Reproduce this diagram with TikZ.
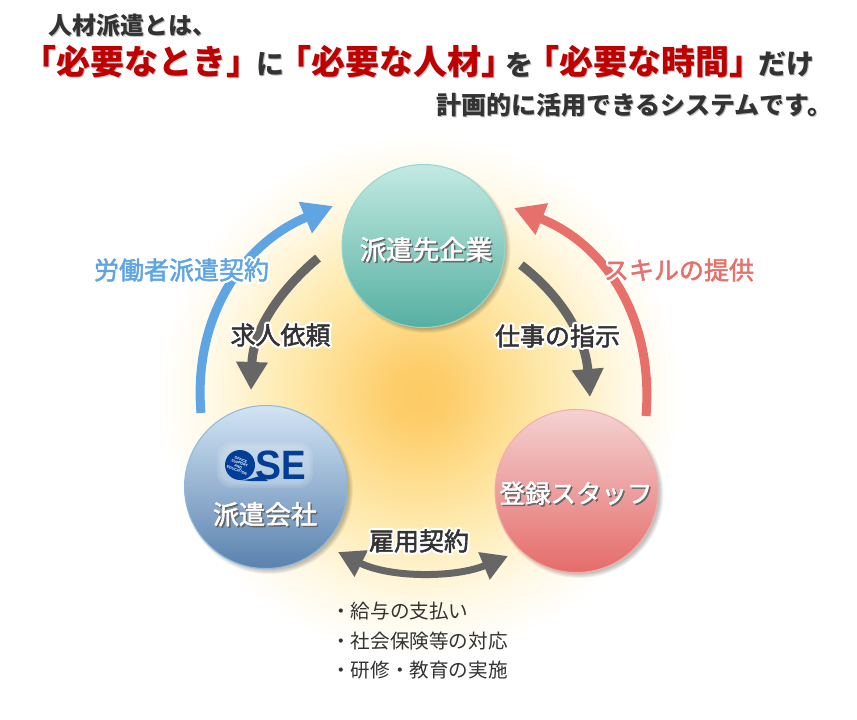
\documentclass[tikz,border=0pt]{standalone}
\usepackage{fontspec}
\usetikzlibrary{arrows.meta,calc}
\newfontfamily\jp{Noto Sans CJK JP}
\newfontfamily\logof{Liberation Sans}
\definecolor{haloA}{HTML}{FDCB66}
\definecolor{haloB}{HTML}{FEDD8E}
\definecolor{haloC}{HTML}{FEEDB8}
\definecolor{haloD}{HTML}{FFF8E4}
\definecolor{inkdark}{HTML}{333333}
\definecolor{arrowgray}{HTML}{666666}
\definecolor{bluearrow}{HTML}{5FA5E3}
\definecolor{redarrow}{HTML}{E8706B}
\definecolor{titlered}{HTML}{BE0000}
\definecolor{tealA}{HTML}{C2EAE2}
\definecolor{tealB}{HTML}{56AFA2}
\definecolor{tealL}{HTML}{93D8CC}
\definecolor{skyA}{HTML}{D2E4F5}
\definecolor{skyB}{HTML}{5A82AE}
\definecolor{skyL}{HTML}{8DB9DF}
\definecolor{roseA}{HTML}{F4D2D2}
\definecolor{roseB}{HTML}{E46C69}
\definecolor{roseL}{HTML}{F6AAAA}
\definecolor{logoblue}{HTML}{003E98}
\pgfdeclareradialshading{halo}{\pgfpoint{0bp}{0bp}}{color(0bp)=(haloA); color(3bp)=(haloA!85!haloB); color(8bp)=(haloB); color(14bp)=(haloC); color(19.5bp)=(haloD); color(25bp)=(white); color(50bp)=(white)}
\newcommand\sz[1]{\fontsize{#1}{#1}\selectfont}
\newcommand\strk[2]{\special{pdf:code 2 Tr #1 w 1 j}#2\special{pdf:code 0 Tr 1 w 0 j}}
\newcommand\outl[2]{\rlap{\jp\color{white}\strk{5}{#2}}{\jp\color{#1}\strk{0.5}{#2}}}
\newcommand\shad[1]{\rlap{\raisebox{-1.5pt}{\kern1.5pt\jp\color{black!60}\strk{0.5}{#1}}}{\jp\color{white}\strk{0.5}{#1}}}
\newcommand\ttl[2]{\rlap{\raisebox{-1pt}{\kern1pt\jp\bfseries\color{black!25}#2}}{\jp\bfseries\color{#1}#2}}
\tikzset{
 x=1pt,y=-1pt,
 bubble/.style={circle,minimum size=163pt,inner sep=0pt,line width=1pt},
 lbl/.style={inner sep=0pt,anchor=center},
 bluearr/.style={draw=bluearrow,line width=9pt,-{Triangle[length=30pt,width=32pt,fill=bluearrow]}},
 redarr/.style={draw=redarrow,line width=9pt,-{Triangle[length=30pt,width=32pt,fill=redarrow]}},
 grayarr/.style={draw=arrowgray,line width=9pt,-{Triangle[length=28pt,width=30pt,fill=arrowgray]}},
 bothrr/.style={draw=arrowgray,line width=7pt,{Triangle[length=26pt,width=28pt,fill=arrowgray]}-{Triangle[length=26pt,width=28pt,fill=arrowgray]}},
 softshadow/.style={fill=black,opacity=0.05},
}
\begin{document}
\begin{tikzpicture}
\useasboundingbox (0,0) rectangle (857,720);
\fill[white] (0,0) rectangle (857,720);
% halo
\shade[shading=halo] (420,395) circle (262);
% soft shadows
\foreach \cx/\cy in {423.5/246,266/487,576.5/491}{
  \foreach \r in {84,83,82,81,80}{
    \fill[softshadow] (\cx+3,\cy+3) circle (\r);
  }
}
% bubbles
\node[bubble,draw=tealL,top color=tealA,bottom color=tealB] (client) at (423.5,246) {};
\node[bubble,draw=skyL,top color=skyA,bottom color=skyB] (agency) at (266,487) {};
\node[bubble,draw=roseL,top color=roseA,bottom color=roseB] (staff) at (576.5,491) {};
% free arrow ends
\coordinate (bs) at (201,413); \coordinate (bt) at (333,206);
\coordinate (rs) at (646,416); \coordinate (rt) at (514,208);
\coordinate (gls) at (318,258); \coordinate (glt) at (251,390);
\coordinate (grs) at (521,265); \coordinate (grt) at (590,397);
\coordinate (dl) at (338,552); \coordinate (dr) at (508,556);
% arrows
\draw[bluearr] (bs) .. controls (193,320) and (240,245) .. (bt);
\draw[redarr] (rs) .. controls (654,320) and (607,245) .. (rt);
\draw[grayarr] (gls) .. controls (280,290) and (253,330) .. (glt);
\draw[grayarr] (grs) .. controls (560,295) and (585,335) .. (grt);
\draw[bothrr] (dl) .. controls (390,578) and (455,578) .. (dr);
% arrow labels
\node[lbl,font=\sz{25}] (tblue) at (181.5,270) {\outl{bluearrow}{労働者派遣契約}};
\node[lbl,font=\sz{25}] (tred) at (679,270) {\outl{redarrow}{スキルの提供}};
\node[lbl,font=\sz{25}] (tleft) at (280.5,335) {\outl{inkdark}{求人依頼}};
\node[lbl,font=\sz{25}] (tright) at (557.5,336) {\outl{inkdark}{仕事の指示}};
\node[lbl,font=\sz{25}] (tbot) at (419,541) {\outl{inkdark}{雇用契約}};
% bubble labels
\node[lbl,font=\sz{26.5}] (tclient) at (426,250) {\shad{派遣先企業}};
\node[lbl,font=\sz{25.5}] (tstaff) at (576,494) {\shad{登録スタッフ}};
\node[lbl,font=\sz{26}] (tagency) at (265,515) {\shad{派遣会社}};
% logo
\foreach \g in {0,2,4}{
  \fill[white,opacity=.1,rounded corners=14pt] (221-\g,446-\g) rectangle (309+\g,484+\g);
}
\fill[logoblue] (240,465) circle (15);
\fill[logoblue] (240,480) .. controls (252,480) and (256,476) .. (262,476) -- (268,481) -- (250,481) -- cycle;
\node[lbl,font=\logof\bfseries\sz{41},text=logoblue] (logos) at (268,465) {\scalebox{.95}[1]{S}};
\node[lbl,font=\logof\bfseries\sz{41},text=logoblue] (logoe) at (294,465) {\scalebox{.9}[1]{E}};
\node[lbl,font=\logof\bfseries\sz{3.6},text=white,align=center,rotate=-22] (logotiny) at (239,465) {OFFICE\\SUPPORT\\AND\\EDUCATION};
% list
\node[lbl,font=\sz{19.6},anchor=west] (l1) at (331,611) {\jp\color{inkdark}・給与の支払い};
\node[lbl,font=\sz{19.6},anchor=west] (l2) at (331,641) {\jp\color{inkdark}・社会保険等の対応};
\node[lbl,font=\sz{19.6},anchor=west] (l3) at (331,670) {\jp\color{inkdark}・研修・教育の実施};
% title
\node[lbl,font=\sz{24},anchor=west] (h1) at (48,26) {\ttl{inkdark}{人材派遣とは、}};
\node[lbl,font=\sz{34}] (h2a) at (142,62) {\ttl{titlered}{「必要なとき」}};
\node[lbl,font=\sz{28}] (h2b) at (270,65) {\ttl{inkdark}{に}};
\node[lbl,font=\sz{34}] (h2c) at (396,62) {\ttl{titlered}{「必要な人材」}};
\node[lbl,font=\sz{28}] (h2d) at (519,65) {\ttl{inkdark}{を}};
\node[lbl,font=\sz{34}] (h2e) at (644,62) {\ttl{titlered}{「必要な時間」}};
\node[lbl,font=\sz{28}] (h2f) at (786,65) {\ttl{inkdark}{だけ}};
\node[lbl,font=\sz{25},anchor=west] (h3) at (436,106) {\ttl{inkdark}{計画的に活用できるシステムです。}};
\end{tikzpicture}
\end{document}
